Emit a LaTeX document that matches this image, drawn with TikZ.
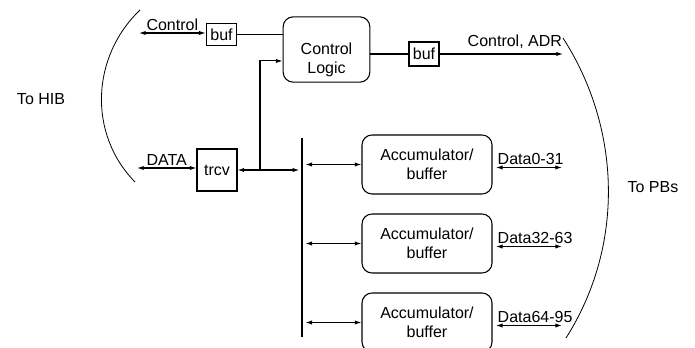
\documentclass[tikz,border=0pt]{standalone}
\usepackage{fontspec}
\setmainfont{Liberation Sans}
\usetikzlibrary{arrows.meta}
\begin{document}
\begin{tikzpicture}[x=0.75pt,y=-0.75pt,line width=0.8pt,
	every node/.style={font=\fontsize{12}{14}\selectfont},
	sq/.style={draw,inner sep=0pt},
	rbox/.style={draw,rounded corners=7.5pt,inner sep=0pt,align=center},
	lbl/.style={inner sep=1.5pt},
	arr/.style={-{Latex[length=5pt,width=3.2pt]}},
	darr/.style={{Latex[length=5pt,width=3.2pt]}-{Latex[length=5pt,width=3.2pt]}}]
	\useasboundingbox (0,0) rectangle (695,348);
	% the two sides
	\draw[line width=0.6pt] (140,10) .. controls (91,57) and (88,134) .. (135,182);
	\draw[line width=0.6pt] (563,38) .. controls (621.5,129) and (624.5,246) .. (566,338);
	\node (hib) at (41,99){To HIB};
	\node (pbs) at (653,187){To PBs};
	% control path
	\node[sq,minimum width=23pt,minimum height=17pt] (bufa) at (221.5,34.5){buf};
	\node[rbox,minimum width=65pt,minimum height=49pt] (cl) at (326.5,49.5){};
	\node[align=center] (cltxt) at (326.5,60){Control\\Logic};
	\node[sq,minimum width=22.5pt,minimum height=18pt] (bufb) at (424,54){buf};
	\coordinate (hibctl) at (139,33);
	\coordinate (pbctl) at (563,54);
	\draw[darr] (hibctl)--(hibctl -| bufa.west) node[midway,above,lbl] (ctltxt){Control};
	\draw (bufa.east)--(bufa.east -| cl.west);
	\draw (cl.east |- bufb.west)--(bufb.west);
	\draw[arr] (bufb.east)--(pbctl) node[pos=.61,above=2pt,lbl] (adrtxt){Control, ADR};
	% data path
	\node[sq,minimum width=30pt,minimum height=31.5pt] (trcv) at (217,170){trcv};
	\coordinate (hibdat) at (137,168);
	\draw[darr] (hibdat)--(hibdat -| trcv.west) node[midway,above,lbl=2pt] (dattxt){DATA};
	\coordinate (bustop) at (302,138);
	\coordinate (busbot) at (302,337);
	\coordinate (tap) at (260,170);
	\draw (bustop)--(busbot);
	\draw[darr,shorten >=2pt] (trcv.east)--(trcv.east -| bustop);
	\draw[arr] (tap) |- ([yshift=-8.6pt]cl.west);
	\foreach \i/\y/\lo/\hi in {1/164.5/0/31,2/243.5/32/63,3/322.5/64/95}{
		\node[rbox,minimum width=97.5pt,minimum height=44.25pt] (acc\i) at (427,\y){Accumulator/\\buffer};
		\draw[darr,shorten <=2.5pt] (acc\i.west -| bustop)--(acc\i.west);
		\coordinate (pb\i) at (562,\y+3);
		\draw[darr,shorten <=2.5pt] (acc\i.east |- pb\i)--(pb\i) node[pos=0,above right,lbl,xshift=2pt] (dat\i){Data\lo-\hi};
	}
\end{tikzpicture}
\end{document}
